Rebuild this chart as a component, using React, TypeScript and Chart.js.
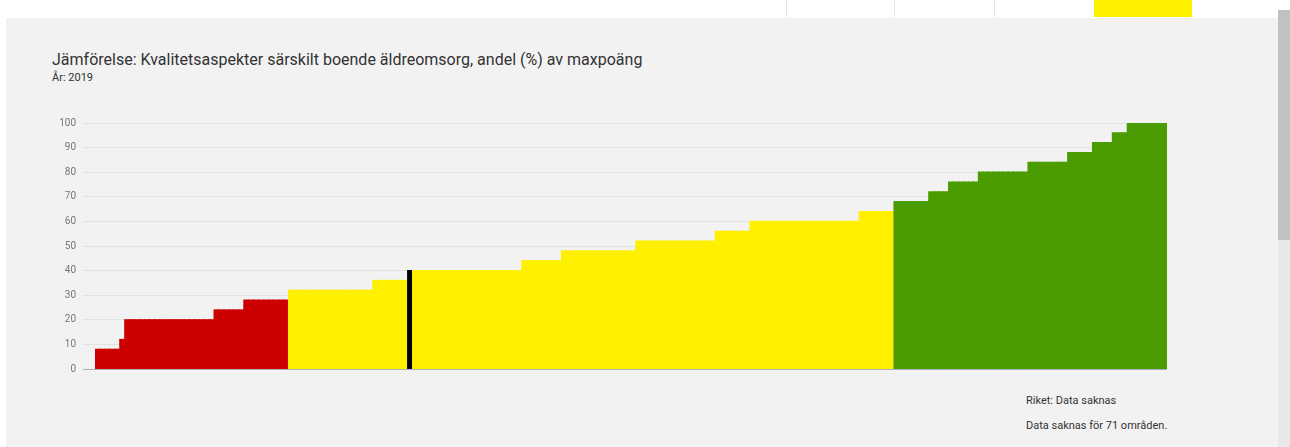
import React, { useEffect, useRef } from "react";
import { Chart, registerables } from "chart.js";

Chart.register(...registerables);

const TITLE = "Jämförelse: Kvalitetsaspekter särskilt boende äldreomsorg, andel (%) av maxpoäng";
const SUBTITLE = "År: 2019";
const NOTE_RIKET = "Riket: Data saknas";
const NOTE_MISSING = "Data saknas för 71 områden.";

const yTicks = [0, 10, 20, 30, 40, 50, 60, 70, 80, 90, 100];

// andel (%) av maxpoäng per kommun, sorted ascending
const values: number[] = [
  8, 8, 8, 8, 8,
  12,
  20, 20, 20, 20, 20, 20, 20, 20, 20, 20, 20, 20, 20, 20, 20, 20, 20, 20,
  24, 24, 24, 24, 24, 24,
  28, 28, 28, 28, 28, 28, 28, 28, 28,
  32, 32, 32, 32, 32, 32, 32, 32, 32, 32, 32, 32, 32, 32, 32, 32, 32,
  36, 36, 36, 36, 36, 36, 36,
  40,
  40, 40, 40, 40, 40, 40, 40, 40, 40, 40, 40, 40, 40, 40, 40, 40, 40, 40, 40, 40, 40, 40,
  44, 44, 44, 44, 44, 44, 44, 44,
  48, 48, 48, 48, 48, 48, 48, 48, 48, 48, 48, 48, 48, 48, 48,
  52, 52, 52, 52, 52, 52, 52, 52, 52, 52, 52, 52, 52, 52, 52, 52,
  56, 56, 56, 56, 56, 56, 56,
  60, 60, 60, 60, 60, 60, 60, 60, 60, 60, 60, 60, 60, 60, 60, 60, 60, 60, 60, 60, 60, 60,
  64, 64, 64, 64, 64, 64, 64,
  68, 68, 68, 68, 68, 68, 68,
  72, 72, 72, 72,
  76, 76, 76, 76, 76, 76,
  80, 80, 80, 80, 80, 80, 80, 80, 80, 80,
  84, 84, 84, 84, 84, 84, 84, 84,
  88, 88, 88, 88, 88,
  92, 92, 92, 92,
  96, 96, 96,
  100, 100, 100, 100, 100, 100, 100, 100,
];

const labels: string[] = values.map((_, i) => `Kommun ${i + 1}`);
const highlightIndex = 63;

const RED = "#cc0000";
const YELLOW = "#fff000";
const GREEN = "#4a9c00";
const BLACK = "#000000";

function barColor(v: number, i: number): string {
  if (i === highlightIndex) return BLACK;
  if (v < 30) return RED;
  if (v < 66) return YELLOW;
  return GREEN;
}

export default function App() {
  const canvasRef = useRef<HTMLCanvasElement | null>(null);

  useEffect(() => {
    if (!canvasRef.current) return;
    const colors = values.map((v, i) => barColor(v, i));
    const chart = new Chart(canvasRef.current, {
      type: "bar",
      data: {
        labels,
        datasets: [
          {
            data: values,
            backgroundColor: colors,
            borderColor: colors,
            borderWidth: 0,
            inflateAmount: 0.6,
            barPercentage: 1,
            categoryPercentage: 1,
          } as any,
        ],
      },
      options: {
        animation: false,
        responsive: false,
        maintainAspectRatio: false,
        layout: { padding: { top: 18, right: 13, bottom: 16, left: 0 } },
        plugins: {
          legend: { display: false },
          tooltip: { enabled: false },
          title: { display: false },
        },
        scales: {
          x: {
            display: false,
            grid: { display: false },
          },
          y: {
            min: 0,
            max: 100,
            afterFit: (scale: any) => {
              scale.width = 55;
            },
            afterBuildTicks: (scale: any) => {
              scale.ticks = yTicks.map((v) => ({ value: v }));
            },
            border: { display: false },
            grid: {
              color: (ctx: any) => (ctx.tick && ctx.tick.value === 0 ? "#a8b0b8" : "#e2e2e2"),
              lineWidth: 1,
              tickLength: 12,
              drawTicks: true,
            },
            ticks: {
              padding: 7,
              color: "#777777",
              font: { family: "Roboto", size: 10 },
            },
          },
        },
      },
    });
    return () => chart.destroy();
  }, []);

  return (
    <div
      style={{
        position: "fixed",
        left: 0,
        top: 0,
        width: 1290,
        height: 447,
        background: "#ffffff",
        overflow: "hidden",
        fontFamily: "Roboto, sans-serif",
      }}
    >
      {/* top tab strip */}
      <div style={{ position: "absolute", left: 786, top: 0, width: 1, height: 17, background: "#e4e4e4" }} />
      <div style={{ position: "absolute", left: 894, top: 0, width: 1, height: 17, background: "#e4e4e4" }} />
      <div style={{ position: "absolute", left: 994, top: 0, width: 1, height: 17, background: "#e4e4e4" }} />
      <div style={{ position: "absolute", left: 1094, top: 0, width: 98, height: 17, background: "#fff000" }} />
      {/* panel */}
      <div
        style={{
          position: "absolute",
          left: 6,
          top: 18,
          width: 1272,
          height: 429,
          background: "#f2f2f2",
        }}
      />
      {/* scrollbar */}
      <div style={{ position: "absolute", left: 1278, top: 10, width: 12, height: 437, background: "#e8e8e8" }} />
      <div style={{ position: "absolute", left: 1278, top: 10, width: 12, height: 230, background: "#c1c1c1" }} />

      <div
        style={{
          position: "absolute",
          left: 52,
          top: 50,
          fontSize: 16,
          color: "#333333",
          whiteSpace: "nowrap",
          lineHeight: "20px",
        }}
      >
        {TITLE}
      </div>
      <div
        style={{
          position: "absolute",
          left: 52,
          top: 71,
          fontSize: 11,
          color: "#333333",
          whiteSpace: "nowrap",
          lineHeight: "14px",
        }}
      >
        {SUBTITLE}
      </div>

      <canvas
        ref={canvasRef}
        width={1140}
        height={280}
        style={{ position: "absolute", left: 40, top: 105, width: 1140, height: 280 }}
      />

      <div
        style={{
          position: "absolute",
          left: 1026,
          top: 394,
          fontSize: 11,
          color: "#333333",
          whiteSpace: "nowrap",
          lineHeight: "14px",
        }}
      >
        {NOTE_RIKET}
      </div>
      <div
        style={{
          position: "absolute",
          left: 1026,
          top: 419,
          fontSize: 11,
          color: "#333333",
          whiteSpace: "nowrap",
          lineHeight: "14px",
        }}
      >
        {NOTE_MISSING}
      </div>
    </div>
  );
}
